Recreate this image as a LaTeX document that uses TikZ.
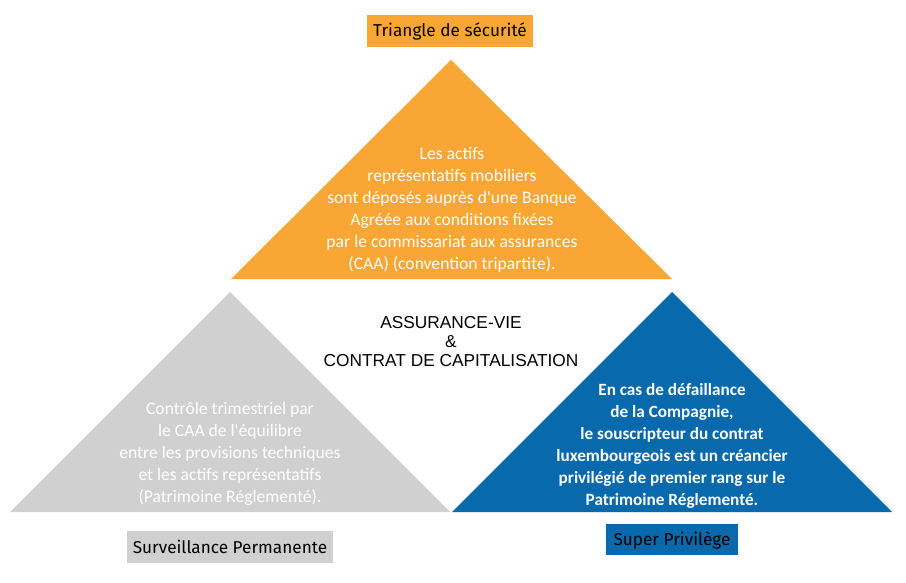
\documentclass[tikz,border=0pt]{standalone}
\usepackage{fontspec}
\setmainfont{Carlito}[Ligatures=TeXOff]
\newfontfamily\arialf{Liberation Sans}
\newfontfamily\labelf{Fira Sans}
\definecolor{orangeT}{RGB}{250,166,52}
\definecolor{grayT}{RGB}{208,208,208}
\definecolor{blueT}{RGB}{8,105,172}
\begin{document}
\begin{tikzpicture}[x=1pt,y=-1pt,
  bodytext/.style={text=white,align=center,inner sep=0pt,font=\fontsize{17.6}{22}\selectfont},
  boldtext/.style={text=white,align=center,inner sep=0pt,font=\fontsize{17.2}{22}\selectfont\bfseries},
  lab/.style={text=black,inner sep=0pt,font=\labelf\fontsize{17.2}{20}\selectfont}]
\useasboundingbox (0,0) rectangle (906,583);
\fill[white] (0,0) rectangle (906,583);
% triangles
\fill[orangeT] (451,60) -- (672,279) -- (231,279) -- cycle;
\fill[grayT] (230,292) -- (450,512) -- (10,512) -- cycle;
\fill[blueT] (672,292) -- (892,512) -- (452,512) -- cycle;
% labels
\fill[orangeT] (367,15) rectangle (533,47);
\node[lab] (tl) at (450,31) {Triangle de sécurité};
\fill[grayT] (127,531) rectangle (333,563);
\node[lab] (sl) at (230,547) {Surveillance Permanente};
\fill[blueT] (606,524) rectangle (738,555);
\node[lab] (pl) at (672,540) {Super Privilège};
% texts
\node[bodytext] (ot) at (452,210) {Les actifs\\représentatifs mobiliers\\sont déposés auprès d'une Banque\\Agréée aux conditions fixées\\par le commissariat aux assurances\\(CAA) (convention tripartite).};
\node[bodytext] (gt) at (230,454) {Contrôle trimestriel par\\le CAA de l'équilibre\\entre les provisions techniques\\et les actifs représentatifs\\(Patrimoine Réglementé).};
\node[boldtext] (bt) at (672,446) {En cas de défaillance\\de la Compagnie,\\le souscripteur du contrat\\luxembourgeois est un créancier\\privilégié de premier rang sur le\\Patrimoine Réglementé.};
\node[align=center,inner sep=0pt,font=\arialf\fontsize{17.3}{19}\selectfont] (ct) at (451,342) {ASSURANCE-VIE\\\&\\CONTRAT DE CAPITALISATION};
\end{tikzpicture}
\end{document}
